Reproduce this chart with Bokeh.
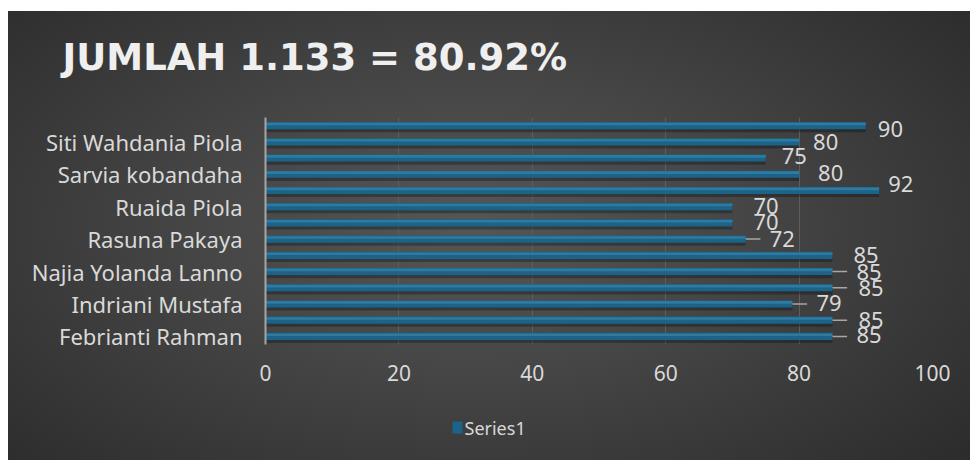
from bokeh.plotting import figure
from bokeh.layouts import column
from bokeh.models import ColumnDataSource, FixedTicker, Range1d, LabelSet
from bokeh.core.properties import value
from bokeh.embed import file_html
from bokeh.resources import INLINE

# ---- data (bottom category first) ----
names = ["Febrianti Rahman", "", "Indriani Mustafa", "", "Najia Yolanda Lanno", "",
         "Rasuna Pakaya", "", "Ruaida Piola", "", "Sarvia kobandaha", "",
         "Siti Wahdania Piola", ""]
scores = [85, 85, 79, 85, 85, 85, 72, 70, 70, 92, 80, 75, 80, 90]
series_name = "Series1"
title_text = "JUMLAH 1.133 = 80.92%"
x_ticks = [0, 20, 40, 60, 80, 100]

# label placement styling (pixels), mimicking Excel's collision avoidance
label_dx = [24, 26, 24, 26, 24, 21, 24, 21, 21, 9, 19, 16, 14, 12]
label_dy = [-1, 0, -1, 0, 0, 0, 0, -1, -1, -6, -1, -2, 0, 3]
leader = [1, 1, 1, 1, 1, 0, 1, 0, 0, 0, 0, 0, 0, 0]

FONT = "Noto Sans"
TXT = "#d9d9d9"
BAR = "#1b6388"
W = 962
BL, BR = 257, 38


def strip(h, **kw):
    f = figure(width=W, height=h, output_backend="svg", toolbar_location=None,
               x_range=Range1d(0, W - BL - BR), y_range=Range1d(0, 1),
               min_border_left=BL, min_border_right=BR, outline_line_color=None, **kw)
    f.border_fill_alpha = 0
    f.background_fill_alpha = 0
    f.axis.visible = False
    f.grid.visible = False
    return f


# ---- title strip ----
ts = strip(106, min_border_top=73, min_border_bottom=0)
ts.title.text = title_text
ts.title.align = "left"
ts.title.offset = -203
ts.title.standoff = 11
ts.title.text_font = "DejaVu Sans"
ts.title.text_font_size = "37px"
ts.title.text_font_style = "bold"
ts.title.text_color = "#efefef"

# ---- main chart ----
idx = list(range(len(scores)))
src = ColumnDataSource(dict(y=idx, v=scores, lbl=[str(s) for s in scores],
                            dx=label_dx, dy=[-d for d in label_dy],
                            ys=[i - 0.2 for i in idx], yh=[i + 0.1 for i in idx]))

p = figure(width=W, height=294, output_backend="svg", toolbar_location=None,
           x_range=Range1d(0, 100), y_range=Range1d(-0.5, len(scores) - 0.5),
           min_border_left=BL, min_border_right=BR, min_border_top=0,
           min_border_bottom=67)
p.border_fill_alpha = 0
p.background_fill_alpha = 0
p.outline_line_color = None

# shadow, bar, highlight
p.hbar(y="ys", right="v", left=0, height=0.42, source=src,
       fill_color="black", fill_alpha=0.28, line_color=None)
p.hbar(y="y", right="v", left=0, height=0.44, source=src,
       fill_color=BAR, line_color=None)
p.hbar(y="yh", right="v", left=0, height=0.16, source=src,
       fill_color="#3683ab", fill_alpha=0.75, line_color=None)

# leader lines
lx0 = [s for s, l in zip(scores, leader) if l]
ly = [i for i, l in zip(idx, leader) if l]
lx1 = [s + 2.2 for s in lx0]
p.segment(x0=lx0, y0=ly, x1=lx1, y1=ly, line_color="#a6a6a6", line_width=1.5)

labels = LabelSet(x="v", y="y", text="lbl", source=src, x_offset="dx", y_offset="dy",
                  text_font=value(FONT), text_font_size="22px", text_color=TXT,
                  text_baseline="middle", text_align="left")
p.add_layout(labels)

p.xaxis.ticker = FixedTicker(ticks=x_ticks)
p.xaxis.axis_line_color = None
p.xaxis.major_tick_line_color = None
p.xaxis.minor_tick_line_color = None
p.xaxis.major_label_standoff = 14
p.xaxis.major_label_text_font = FONT
p.xaxis.major_label_text_font_size = "21px"
p.xaxis.major_label_text_color = TXT

lab_ticks = [i for i, n in enumerate(names) if n]
p.yaxis.ticker = FixedTicker(ticks=lab_ticks)
p.yaxis.major_label_overrides = {i: names[i] for i in lab_ticks}
p.yaxis.axis_line_color = "#a6a6a6"
p.yaxis.axis_line_width = 2
p.yaxis.major_tick_line_color = None
p.yaxis.minor_tick_line_color = None
p.yaxis.major_label_standoff = 17
p.yaxis.major_label_text_font = FONT
p.yaxis.major_label_text_font_size = "22px"
p.yaxis.major_label_text_color = TXT

p.xgrid.ticker = FixedTicker(ticks=x_ticks[1:])
p.xgrid.grid_line_color = "#5e5e5e"
p.xgrid.grid_line_width = 1
p.ygrid.grid_line_color = None

# ---- legend strip (pixel coordinates relative to plot frame) ----
lg = strip(49, min_border_top=0, min_border_bottom=0)
lg.y_range = Range1d(0, 49)
lg.rect(x=[192], y=[33], width=10, height=12, fill_color=BAR, line_color=None)
lg.text(x=[199], y=[33], text=[series_name], text_font=value(FONT),
        text_font_size="18px", text_color=TXT, text_baseline="middle")

layout = column(ts, p, lg, spacing=0)
layout.margin = (11, 0, 0, 8)
layout.styles = {"background": "radial-gradient(ellipse 70% 80% at 48% 48%, #565656 0%, #464646 40%, #2b2b2b 100%)"}

open("out.html", "w").write(file_html(layout, INLINE))
